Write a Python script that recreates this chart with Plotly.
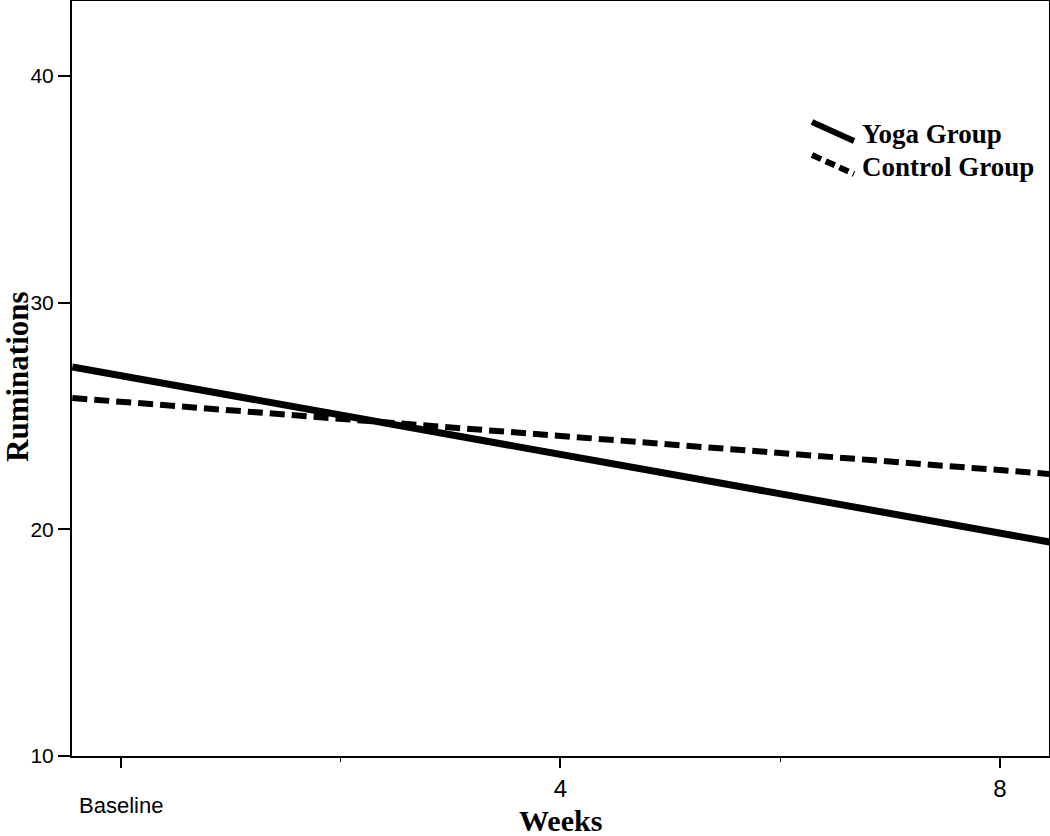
import plotly.graph_objects as go

# Data (linear trends across the plotted range)
weeks = [-0.44, 8.45]
yoga = [27.16, 19.44]
control = [25.79, 22.44]

x_tickvals = [0, 4, 8]
x_ticktext = ["", "4", "8"]
baseline_label = "Baseline"
y_tickvals = [10, 20, 30, 40]

L, R, T, B = 72, 1, 1, 80
PW, PH = 1050 - L - R, 836 - T - B


def px(x):
    return (x - L) / PW


def py(y):
    return (836 - B - y) / PH


fig = go.Figure()
fig.add_trace(go.Scatter(x=weeks, y=yoga, mode="lines", name="Yoga Group",
                         line=dict(color="black", width=7), showlegend=False))
fig.add_trace(go.Scatter(x=weeks, y=control, mode="lines", name="Control Group",
                         line=dict(color="black", width=6, dash="15px,7px"), showlegend=False))

# Hand-drawn style legend (slanted samples)
fig.add_shape(type="line", xref="paper", yref="paper",
              x0=px(812), x1=px(854), y0=py(122), y1=py(141),
              line=dict(color="black", width=6))
fig.add_shape(type="line", xref="paper", yref="paper",
              x0=px(812), x1=px(854), y0=py(155), y1=py(174),
              line=dict(color="black", width=6, dash="10px,5px"))
for txt, yp in [("Yoga Group", 134), ("Control Group", 167)]:
    fig.add_annotation(text=txt, xref="paper", yref="paper",
                       x=px(860), y=py(yp), xanchor="left", yanchor="middle",
                       showarrow=False,
                       font=dict(family="Liberation Serif", size=27, color="black", weight="bold"))

# Baseline label (sits a little lower than the numeric tick labels)
fig.add_annotation(text=baseline_label, xref="x", yref="paper",
                   x=x_tickvals[0], y=py(805), xanchor="center", yanchor="middle", showarrow=False,
                   font=dict(family="Liberation Sans", size=22, color="black"))

# Axis titles
fig.add_annotation(text="<b>Weeks</b>", xref="paper", yref="paper",
                   x=px(560), y=py(820), xanchor="center", yanchor="middle", showarrow=False,
                   font=dict(family="Liberation Serif", size=30, color="black"))
fig.add_annotation(text="<b>Ruminations</b>", xref="paper", yref="paper",
                   x=px(17), y=py(377), xanchor="center", yanchor="middle", showarrow=False,
                   textangle=-90,
                   font=dict(family="Liberation Serif", size=31, color="black"))

fig.update_layout(
    width=1050, height=836,
    margin=dict(l=L, r=R, t=T, b=B),
    paper_bgcolor="white", plot_bgcolor="white",
    font=dict(family="Liberation Sans", color="black"),
)
fig.update_xaxes(
    range=[-0.443, 8.446], tickmode="array", tickvals=x_tickvals, ticktext=x_ticktext,
    ticks="outside", ticklen=10, tickwidth=2, tickcolor="black",
    tickfont=dict(size=24, family="Liberation Sans"),
    minor=dict(tickmode="linear", tick0=0, dtick=2, ticks="outside", ticklen=4, tickwidth=1, tickcolor="black"),
    showgrid=False, zeroline=False, automargin=False,
    showline=True, linecolor="black", linewidth=2, mirror=True,
)
fig.update_yaxes(
    range=[10, 43.3], tickmode="array", tickvals=y_tickvals,
    ticks="outside", ticklen=12, tickwidth=2, tickcolor="black",
    tickfont=dict(size=21, family="Liberation Sans"),
    showgrid=False, zeroline=False, automargin=False,
    showline=True, linecolor="black", linewidth=2, mirror=True,
)

fig.write_html("out.html", config={"displayModeBar": False},
               post_script="document.body.style.margin='0';document.body.style.overflow='hidden';")
